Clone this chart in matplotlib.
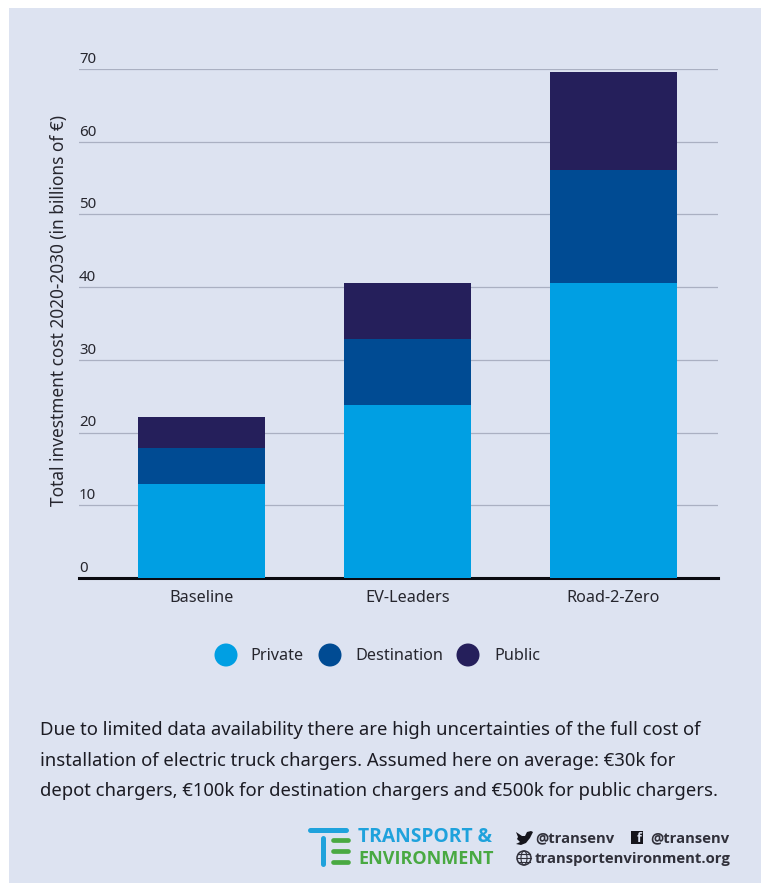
import matplotlib
matplotlib.use('Agg')
import matplotlib.pyplot as plt
from matplotlib.patches import Rectangle, Circle, Ellipse, Polygon
import numpy as np

plt.rcParams['font.family'] = ['Noto Sans', 'DejaVu Sans']

categories = ['Baseline', 'EV-Leaders', 'Road-2-Zero']
private = [12.9, 23.8, 40.6]
destination = [5.0, 9.0, 15.5]
public = [4.2, 7.8, 13.5]
series_names = ['Private', 'Destination', 'Public']
series_colors = ['#009fe3', '#004b93', '#251f5b']
y_ticks = [0, 10, 20, 30, 40, 50, 60, 70]
note_lines = [
    'Due to limited data availability there are high uncertainties of the full cost of',
    'installation of electric truck chargers. Assumed here on average: €30k for',
    'depot chargers, €100k for destination chargers and €500k for public chargers.',
]

W, H = 761, 884
BG = '#dde3f1'
INK = '#26262e'
fig = plt.figure(figsize=(W / 100, H / 100), dpi=100, facecolor='white')

# overlay in pixel coordinates for the panel, legend, note and logo
ov = fig.add_axes([0, 0, 1, 1], zorder=0)
ov.set_xlim(0, W)
ov.set_ylim(H, 0)
ov.axis('off')
ov.add_patch(Rectangle((9, 8), W - 9, 875, color=BG, lw=0))

# chart
ax = fig.add_axes([79 / W, 1 - 578 / H, 639 / W, 509 / H], zorder=1)
ax.patch.set_alpha(0)
x = np.arange(len(categories))
bottom = np.zeros(3)
for vals, c in zip([private, destination, public], series_colors):
    ax.bar(x, vals, 0.617, bottom=bottom, color=c, zorder=3, lw=0)
    bottom += np.array(vals)
ax.set_xlim(-0.595, 2.507)
ax.set_ylim(0, 70)
ax.set_yticks(y_ticks[1:])
ax.set_yticklabels([])
ax.yaxis.grid(True, color='#aab0c2', lw=0.9, zorder=1)
ax.tick_params(axis='y', length=0)
ax.tick_params(axis='x', length=0, pad=8.8, labelsize=11.7, labelcolor=INK)
ax.set_xticks(x)
ax.set_xticklabels(categories)
for s in ['top', 'left', 'right']:
    ax.spines[s].set_visible(False)
ax.spines['bottom'].set_linewidth(2.2)
ax.spines['bottom'].set_color('#0a0a10')
for t in y_ticks:
    ax.annotate(str(t), (0, t), xycoords=('axes fraction', 'data'), xytext=(0, 1.5),
                textcoords='offset points', fontsize=10.8, color=INK, va='bottom', ha='left',
                annotation_clip=False)

ov.text(59, 311, 'Total investment cost 2020-2030 (in billions of €)', rotation=90,
        ha='center', va='center', fontsize=12.4, color=INK)

# legend
for cx, tx, name, c in zip([226, 330, 468], [250, 355, 494], series_names, series_colors):
    ov.add_patch(Circle((cx, 655), 11.5, color=c, lw=0))
    ov.text(tx, 656, name, ha='left', va='center', fontsize=11.7, color=INK)

# note
for yy, line in zip([730, 761, 791], note_lines):
    ov.text(40, yy, line, ha='left', va='center', fontsize=13.3, color='#1c1c24')

# logo
blue, green = '#1fa2dc', '#49a942'
ov.plot([310, 346], [830, 830], color=blue, lw=3.6, solid_capstyle='round')
ov.plot([323, 323], [838, 864], color=blue, lw=3.6, solid_capstyle='round')
for yy in [840, 851, 862]:
    ov.plot([333, 348], [yy, yy], color=green, lw=3.4, solid_capstyle='round')
ov.text(358, 837, 'TRANSPORT &', ha='left', va='center', fontsize=13.9,
        family='Open Sans', fontweight='bold', color=blue)
ov.text(358, 859, 'ENVIRONMENT', ha='left', va='center', fontsize=13.0,
        family='Open Sans', fontweight='bold', color=green)

# social handles
dark = '#15151c'
grey = '#30303a'
bird = [(516, 832), (522, 836), (525, 836), (527, 832), (531, 831), (533, 832), (530, 838),
        (526, 843), (521, 845), (516, 844), (520, 842), (517, 839), (518, 837)]
ov.add_patch(Polygon(bird, closed=True, color=dark, lw=0))
ov.text(535, 838, '@transenv', ha='left', va='center', fontsize=10.6,
        family='Open Sans', fontweight='bold', color=grey)
ov.add_patch(Rectangle((631, 831), 12, 13, color=dark, lw=0))
ov.text(639, 838, 'f', ha='center', va='center', fontsize=9, family='Open Sans',
        fontweight='bold', color=BG)
ov.text(650, 838, '@transenv', ha='left', va='center', fontsize=10.6,
        family='Open Sans', fontweight='bold', color=grey)
ov.add_patch(Circle((524, 858), 7, fc='none', ec=grey, lw=1.1))
ov.add_patch(Ellipse((524, 858), 6, 14, fc='none', ec=grey, lw=0.8))
ov.plot([517, 531], [858, 858], color=grey, lw=0.8)
ov.plot([518, 530], [854, 854], color=grey, lw=0.8)
ov.plot([518, 530], [862, 862], color=grey, lw=0.8)
ov.text(535, 859, 'transportenvironment.org', ha='left', va='center', fontsize=10.7,
        family='Open Sans', fontweight='bold', color=grey)

fig.savefig('out.png', dpi=100, facecolor='white')
